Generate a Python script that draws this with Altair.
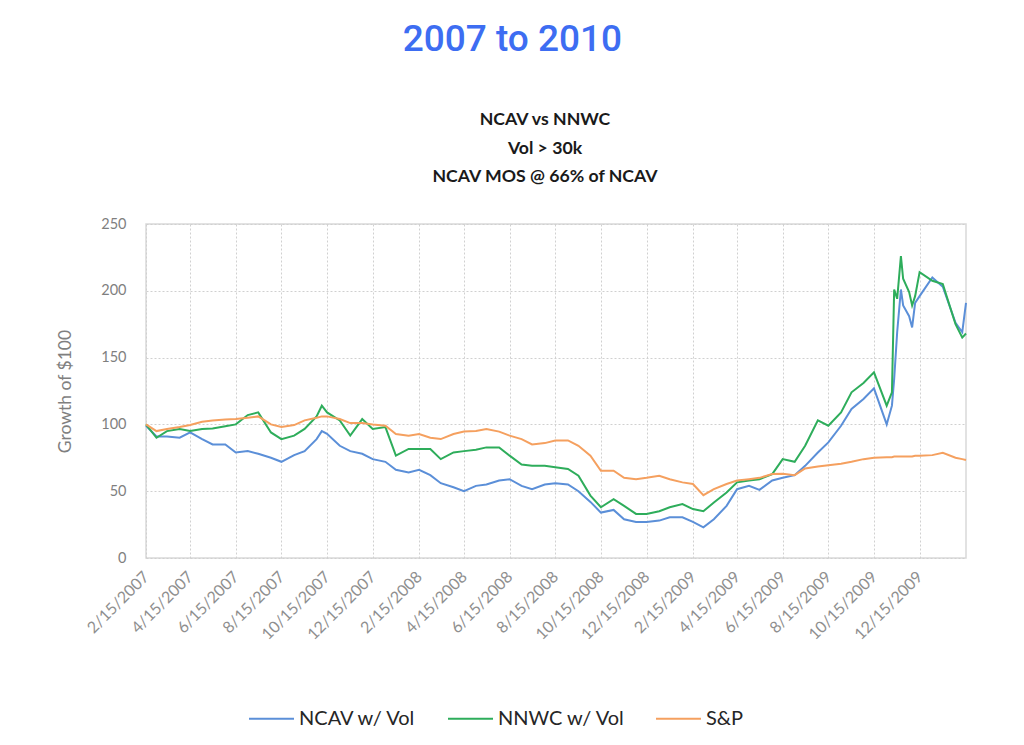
import altair as alt
import pandas as pd

# ---- data (semi-monthly samples, extra points near jumps) ----
dates = [
    "2007-02-15", "2007-03-01", "2007-03-15", "2007-04-01", "2007-04-15", "2007-05-01",
    "2007-05-15", "2007-06-01", "2007-06-15", "2007-07-01", "2007-07-15", "2007-08-01",
    "2007-08-15", "2007-09-01", "2007-09-15", "2007-10-01", "2007-10-08", "2007-10-15",
    "2007-11-01", "2007-11-15", "2007-12-01", "2007-12-15", "2008-01-01", "2008-01-15",
    "2008-02-01", "2008-02-15", "2008-03-01", "2008-03-15", "2008-04-01", "2008-04-15",
    "2008-05-01", "2008-05-15", "2008-06-01", "2008-06-15", "2008-07-01", "2008-07-15",
    "2008-08-01", "2008-08-15", "2008-09-01", "2008-09-15", "2008-10-01", "2008-10-15",
    "2008-11-01", "2008-11-15", "2008-12-01", "2008-12-15", "2009-01-01", "2009-01-15",
    "2009-02-01", "2009-02-15", "2009-03-01", "2009-03-15", "2009-04-01", "2009-04-15",
    "2009-05-01", "2009-05-15", "2009-06-01", "2009-06-15", "2009-07-01", "2009-07-15",
    "2009-08-01", "2009-08-15", "2009-09-01", "2009-09-15", "2009-10-01", "2009-10-15",
    "2009-11-01", "2009-11-08", "2009-11-11", "2009-11-15", "2009-11-20", "2009-11-23",
    "2009-12-01", "2009-12-05", "2009-12-09", "2009-12-15", "2010-01-01", "2010-01-15",
    "2010-02-01", "2010-02-10", "2010-02-15",
]
ncav = [
    99, 91, 91, 90, 94, 89,
    85, 85, 79, 80, 78, 75,
    72, 77, 80, 89, 95, 93,
    84, 80, 78, 74, 72, 66,
    64, 66, 62, 56, 53, 50,
    54, 55, 58, 59, 54, 51.5,
    55, 56, 55, 50, 42, 34,
    36, 29, 27, 27, 28, 30.5,
    30.5, 27, 23, 29, 39, 51.5,
    54, 51, 58, 60, 62, 69,
    79, 86.5, 99, 111.5, 119, 127,
    100, 114, 134, 169, 201, 189,
    181, 172.6, 191, 196, 210, 203,
    176, 169, 191,
]
nnwc = [
    100, 90, 95, 96.6, 95, 96.6,
    97, 98.6, 100, 107, 109, 94,
    89, 91.6, 96.6, 106, 114, 109,
    103, 91.6, 104, 96.6, 98, 76.6,
    81.6, 81.6, 81.6, 74, 79, 80,
    81, 82.8, 82.8, 76.6, 70, 69,
    69, 68, 66.6, 61.6, 46.7, 38,
    44, 39, 33, 33, 35, 38,
    40.4, 36.6, 35, 41.6, 49, 56.6,
    58, 59, 62.8, 74, 72, 84,
    103, 99, 109, 124, 131, 139,
    114, 124, 201, 194, 226, 209,
    199, 189, 196, 214, 207.5, 205,
    175, 165, 168,
]
sp = [
    100, 95, 96.6, 98, 99.5, 102,
    103, 103.6, 104, 105, 106, 100,
    98, 99.5, 103, 105, 106, 106,
    104, 101, 101, 100, 99, 92.8,
    91.6, 92.8, 90, 89, 92.8, 94.6,
    95, 96.6, 94.6, 91.6, 89, 85,
    86, 88, 88, 84, 76.6, 65.3,
    65.3, 60, 59, 60, 61.6, 59,
    56.6, 55.4, 47, 51.5, 55.4, 58,
    59, 60, 62.8, 63, 62, 67,
    68.5, 69.5, 70.6, 72, 74, 75,
    75.5, 75.5, 76, 76, 76, 76,
    76, 76, 76.5, 76.5, 77, 78.7,
    75, 74, 73.4,
]
series_names = ["NCAV w/ Vol", "NNWC w/ Vol", "S&P"]
series_colors = ["#5B8FD8", "#2EAD5B", "#F5A05F"]
x_tick_dates = [
    (2007, 2, 15), (2007, 4, 15), (2007, 6, 15), (2007, 8, 15), (2007, 10, 15), (2007, 12, 15),
    (2008, 2, 15), (2008, 4, 15), (2008, 6, 15), (2008, 8, 15), (2008, 10, 15), (2008, 12, 15),
    (2009, 2, 15), (2009, 4, 15), (2009, 6, 15), (2009, 8, 15), (2009, 10, 15), (2009, 12, 15),
]
x_domain = [(2007, 2, 15), (2010, 2, 15)]
y_ticks = [0, 50, 100, 150, 200, 250]

rows = []
for name, vals in zip(series_names, [ncav, nnwc, sp]):
    for d, v in zip(dates, vals):
        rows.append({"date": d + "T00:00:00", "value": v, "series": name})
df = pd.DataFrame(rows)


def dt(t):
    return alt.DateTime(year=t[0], month=t[1], date=t[2])


label_font = "Lato"
gray = "#7f7f7f"

lines = alt.Chart(df).mark_line(strokeWidth=2).encode(
    x=alt.X(
        "date:T",
        scale=alt.Scale(domain=[dt(t) for t in x_domain]),
        axis=alt.Axis(
            values=[dt(t) for t in x_tick_dates],
            format="%-m/%-d/%Y",
            labelAngle=-45,
            labelAlign="right",
            labelBaseline="middle",
            labelPadding=16,
            labelFontSize=16,
            labelFont=label_font,
            labelColor="#8f8f8f",
            labelOverlap=False,
            labelBound=False,
            title=None,
        ),
    ),
    y=alt.Y(
        "value:Q",
        scale=alt.Scale(domain=[0, 250]),
        axis=alt.Axis(
            values=y_ticks,
            labelFontSize=14.5,
            labelFont=label_font,
            labelColor=gray,
            labelPadding=20,
            title="Growth of $100",
            titleFont=label_font,
            titleFontSize=17.5,
            titleFontWeight="normal",
            titleColor=gray,
            titlePadding=26,
        ),
    ),
    color=alt.Color(
        "series:N",
        scale=alt.Scale(domain=series_names, range=series_colors),
        legend=alt.Legend(
            title=None,
            orient="none",
            direction="horizontal",
            legendX=102,
            legendY=471,
            symbolType="stroke",
            symbolSize=2025,
            symbolStrokeWidth=2,
            labelFont=label_font,
            labelFontSize=20,
            labelColor="#262626",
            labelOffset=4,
            columnPadding=27,
        ),
    ),
).properties(
    width=820,
    height=334,
    title=alt.TitleParams(
        text=["NCAV vs NNWC", "Vol > 30k", "NCAV MOS @ 66% of NCAV"],
        font=label_font,
        fontSize=17.7,
        fontWeight="bold",
        color="#1a1a1a",
        lineHeight=28.5,
        anchor="middle",
        dx=-11,
        offset=30,
    ),
)

chart = alt.vconcat(
    lines,
    title=alt.TitleParams(
        text="2007 to 2010",
        font="Roboto",
        fontSize=37,
        fontWeight=500,
        color="#3D6DF2",
        anchor="middle",
        dx=-1,
        offset=52,
    ),
).properties(
    padding={"left": 48, "top": 12, "right": 10, "bottom": 10},
).configure_view(
    stroke="#d9d9d9",
    strokeWidth=1.5,
).configure_axis(
    grid=True,
    gridColor="#d0d0d0",
    gridDash=[2, 2],
    gridWidth=1,
    domain=False,
    ticks=False,
)

chart.save("out.html", embed_options={"renderer": "svg", "actions": False})
